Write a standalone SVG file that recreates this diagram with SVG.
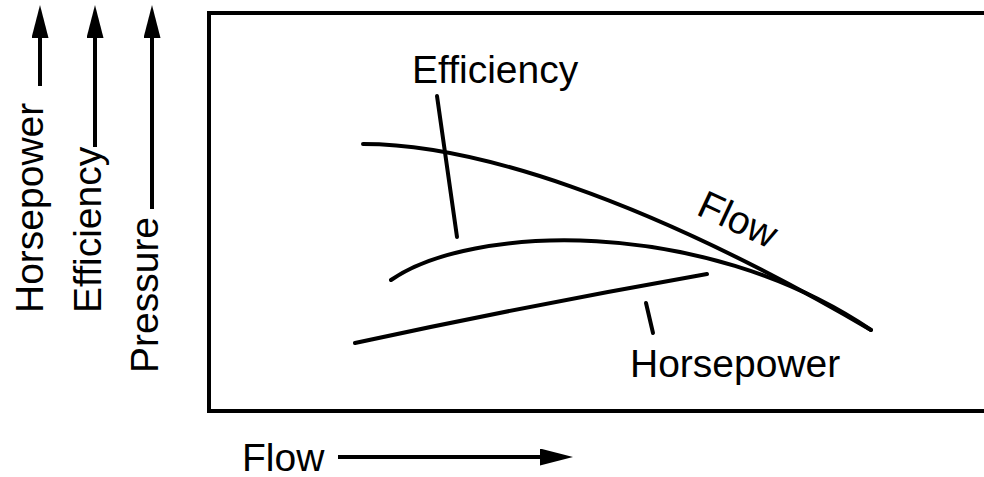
<svg xmlns="http://www.w3.org/2000/svg" width="984" height="477" viewBox="0 0 984 477">
  <style>
    .ln { fill: none; stroke: #000; stroke-width: 4; stroke-linecap: round; }
    .ax { fill: none; stroke: #000; stroke-width: 4; }
    .lbl { font-family: "Liberation Sans", Arial, Helvetica, sans-serif; font-size: 39px; fill: #000; }
  </style>
  <defs>
    <marker id="arr" markerUnits="userSpaceOnUse" markerWidth="34" markerHeight="18" refX="0" refY="8.5" orient="auto" viewBox="0 0 34 18">
      <path d="M0,0 L33,8.5 L0,17 Z" fill="#000"/>
    </marker>
  </defs>
  <rect width="984" height="477" fill="#fff"/>

  <g id="frame">
    <rect x="209" y="13" width="800" height="398" fill="none" stroke="#000" stroke-width="4"/>
  </g>

  <g id="axis-horsepower">
    <line class="ax" x1="40" y1="86" x2="40" y2="38" marker-end="url(#arr)"/>
    <text class="lbl" transform="translate(43,313) rotate(-90)">Horsepower</text>
  </g>
  <g id="axis-efficiency">
    <line class="ax" x1="95" y1="147" x2="95" y2="38" marker-end="url(#arr)"/>
    <text class="lbl" transform="translate(101,313) rotate(-90)">Efficiency</text>
  </g>
  <g id="axis-pressure">
    <line class="ax" x1="152" y1="209" x2="152" y2="38" marker-end="url(#arr)"/>
    <text class="lbl" transform="translate(158,373) rotate(-90)">Pressure</text>
  </g>
  <g id="axis-flow">
    <line class="ax" x1="338" y1="457" x2="540" y2="457" marker-end="url(#arr)"/>
    <text class="lbl" x="242" y="471">Flow</text>
  </g>

  <g id="curves">
    <path id="pressure-curve" class="ln" d="M363,144 C470,144 640,195 871,330"/>
    <path id="efficiency-curve" class="ln" d="M391,280 C470,225 700,215 871,330"/>
    <path id="horsepower-curve" class="ln" d="M355,343 Q531,305 707,274"/>
  </g>

  <g id="connectors">
    <line class="ln" x1="437" y1="96" x2="457" y2="237"/>
    <line class="ln" x1="646" y1="303" x2="653" y2="333"/>
  </g>

  <g id="label-efficiency">
    <text class="lbl" x="412" y="83">Efficiency</text>
  </g>
  <g id="label-flow">
    <text class="lbl" transform="translate(695,214) rotate(25)">Flow</text>
  </g>
  <g id="label-horsepower">
    <text class="lbl" x="630" y="377">Horsepower</text>
  </g>
</svg>
